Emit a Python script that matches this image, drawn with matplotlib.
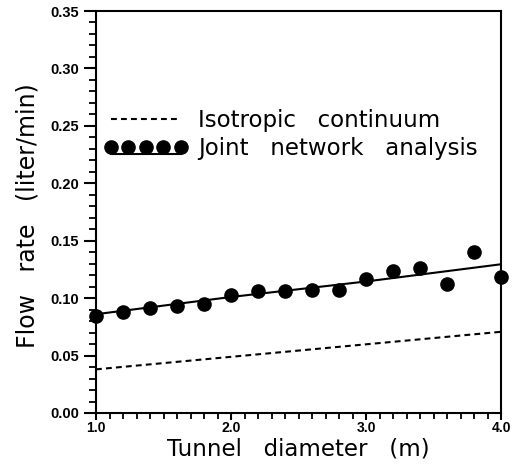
import matplotlib
matplotlib.use("Agg")
import matplotlib.pyplot as plt
from matplotlib.lines import Line2D
from matplotlib.legend_handler import HandlerLine2DCompound
from matplotlib.ticker import MultipleLocator, FormatStrFormatter

# Data
diameter = [1.0, 1.2, 1.4, 1.6, 1.8, 2.0, 2.2, 2.4, 2.6, 2.8, 3.0, 3.2, 3.4, 3.6, 3.8, 4.0]
joint_points = [0.0845, 0.088, 0.091, 0.093, 0.095, 0.103, 0.106, 0.106, 0.107, 0.107,
                0.117, 0.124, 0.126, 0.112, 0.140, 0.118]
fit_x = [1.0, 2.0, 3.0, 4.0]
fit_joint = [0.086, 0.101, 0.1145, 0.1295]
iso_x = [1.0, 4.0]
iso_cont = [0.038, 0.0707]

xticks = [1.0, 2.0, 3.0, 4.0]
yticks = [0.00, 0.05, 0.10, 0.15, 0.20, 0.25, 0.30, 0.35]


class OffsetLineHandler(HandlerLine2DCompound):
    """Line drawn slightly below the row of markers, as in the reference legend."""
    def __init__(self, offset=4.0, **kw):
        super().__init__(**kw)
        self.offset = offset

    def create_artists(self, legend, orig_handle, xdescent, ydescent, width,
                       height, fontsize, trans):
        arts = super().create_artists(legend, orig_handle, xdescent, ydescent,
                                      width, height, fontsize, trans)
        for a in arts:
            if a.get_marker() in (None, "None", "none", ""):
                a.set_ydata([y - self.offset for y in a.get_ydata()])
        return arts


fig = plt.figure(figsize=(5.18, 4.67), dpi=100)
ax = fig.add_axes([96/518, 1-413/467, (501-96)/518, (413-11)/467])

lw = 1.5
dash = (0, (2.8, 2.0))
ax.plot(iso_x, iso_cont, color="black", lw=lw, ls=dash)
ax.plot(fit_x, fit_joint, color="black", lw=lw)
ax.plot(diameter, joint_points, ls="none", marker="o", ms=9.5, color="black", clip_on=False)

ax.set_xlim(1.0, 4.0)
ax.set_ylim(0.0, 0.35)
ax.set_xticks(xticks)
ax.set_yticks(yticks)
ax.xaxis.set_major_formatter(FormatStrFormatter("%.1f"))
ax.yaxis.set_major_formatter(FormatStrFormatter("%.2f"))
ax.xaxis.set_minor_locator(MultipleLocator(0.1))
ax.yaxis.set_minor_locator(MultipleLocator(0.01))
ax.tick_params(axis="y", which="major", direction="out", length=9, width=1.5, pad=3)
ax.tick_params(axis="y", which="minor", direction="out", length=5, width=1.3)
ax.tick_params(axis="x", which="major", direction="out", length=5, width=1.5, pad=1)
ax.tick_params(axis="x", which="minor", direction="out", length=4, width=1.3)
for lab in ax.get_yticklabels():
    lab.set_fontfamily("Liberation Sans")
    lab.set_fontweight("bold")
    lab.set_fontsize(10.5)
for lab in ax.get_xticklabels():
    lab.set_fontfamily("Liberation Sans")
    lab.set_fontweight("bold")
    lab.set_fontsize(10)
for s in ax.spines.values():
    s.set_linewidth(1.5)

ax.set_xlabel("Tunnel   diameter   (m)", fontsize=16.5, family="DejaVu Sans")
ax.xaxis.set_label_coords(0.5, (413 - 437) / 402)
ax.set_ylabel("Flow   rate   (liter/min)", fontsize=17, family="DejaVu Sans")
ax.yaxis.set_label_coords((40 - 96) / 405, (413 - 216) / 402)

h_iso = Line2D([], [], color="black", lw=lw, ls=dash)
h_joint = Line2D([], [], color="black", lw=lw, marker="o", ms=9.5)
leg = ax.legend([h_iso, h_joint],
                ["Isotropic   continuum", "Joint   network   analysis"],
                handler_map={h_joint: OffsetLineHandler(offset=4.5)},
                numpoints=5, handlelength=3.65, handletextpad=0.45,
                frameon=False, loc="upper left",
                bbox_to_anchor=(0.02, 0.757), borderaxespad=0, borderpad=0,
                labelspacing=0.25, prop={"family": "DejaVu Sans", "size": 16.5})

fig.savefig("out.png", dpi=100)
